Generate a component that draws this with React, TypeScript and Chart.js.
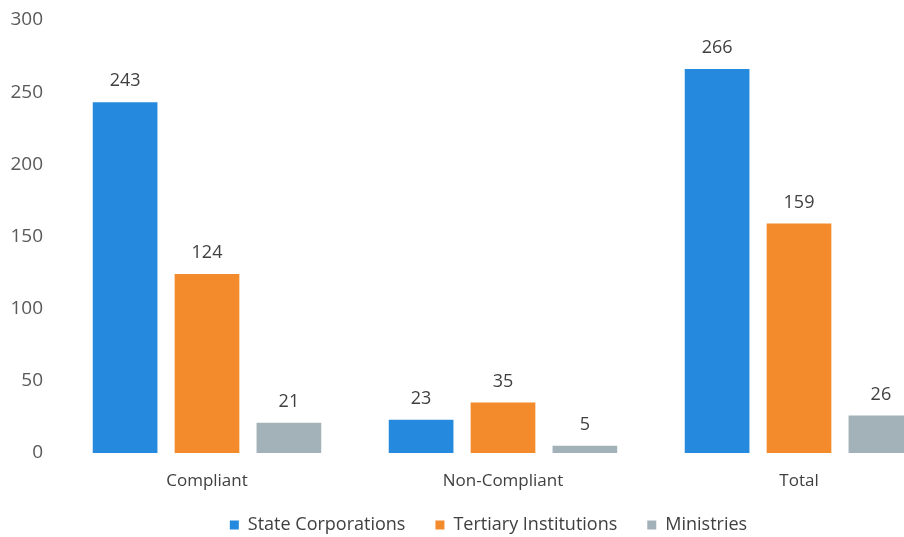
import React, { useEffect, useRef } from "react";
import { Chart, registerables } from "chart.js";

Chart.register(...registerables);

const categories = ["Compliant", "Non-Compliant", "Total"];
const seriesNames = ["State Corporations", "Tertiary Institutions", "Ministries"];
const stateCorporations = [243, 23, 266];
const tertiaryInstitutions = [124, 35, 159];
const ministries = [21, 5, 26];
const seriesColors = ["#2589dd", "#f38a2b", "#a2b2b8"];
const yTicks = [0, 50, 100, 150, 200, 250, 300];

const FONT = "'Open Sans', 'Noto Sans', sans-serif";

const valueLabels = {
  id: "valueLabels",
  afterDatasetsDraw(chart: any) {
    const ctx = chart.ctx;
    ctx.save();
    ctx.font = `18px ${FONT}`;
    ctx.fillStyle = "#404040";
    ctx.textAlign = "center";
    ctx.textBaseline = "bottom";
    chart.data.datasets.forEach((ds: any, i: number) => {
      const meta = chart.getDatasetMeta(i);
      meta.data.forEach((bar: any, j: number) => {
        ctx.fillText(String(ds.data[j]), bar.x, bar.y - 12);
      });
    });
    ctx.restore();
  },
};

const layoutTune = {
  id: "layoutTune",
  beforeInit(chart: any) {
    const legend = chart.legend;
    if (!legend) return;
    const fit = legend.fit;
    legend.fit = function () {
      fit.call(this);
      this.height = 51;
    };
  },
  afterLayout(chart: any) {
    const legend = chart.legend;
    if (legend) {
      legend.left += 15;
      legend.right += 15;
    }
    const x = chart.scales.x;
    if (x) {
      x.bottom += 20;
      x.height += 20;
    }
  },
};

export default function App() {
  const ref = useRef<HTMLCanvasElement>(null);
  useEffect(() => {
    if (!ref.current) return;
    const data = [stateCorporations, tertiaryInstitutions, ministries];
    const chart = new Chart(ref.current, {
      type: "bar",
      data: {
        labels: categories,
        datasets: seriesNames.map((name, i) => ({
          label: name,
          data: data[i],
          backgroundColor: seriesColors[i],
          borderWidth: 0,
          categoryPercentage: 0.83,
          barPercentage: 0.79,
        })),
      },
      options: {
        responsive: false,
        animation: false,
        layout: { padding: { left: 0, right: 29, top: 20, bottom: 0 } },
        plugins: {
          tooltip: { enabled: false },
          legend: {
            position: "bottom",
            labels: {
              boxWidth: 9,
              boxHeight: 9,
              padding: 30,
              color: "#404040",
              font: { family: FONT, size: 18 },
            },
          },
        },
        scales: {
          x: {
            afterFit(axis: any) {
              axis.height = 33;
              axis.paddingLeft = 0;
              axis.paddingRight = 0;
            },
            grid: { display: false },
            border: { display: false },
            ticks: { color: "#404040", font: { family: FONT, size: 17 }, padding: 10 },
          },
          y: {
            min: 0,
            max: 300,
            afterBuildTicks(axis: any) {
              axis.ticks = yTicks.map((v) => ({ value: v }));
            },
            afterFit(axis: any) {
              axis.width = 59;
              axis.paddingTop = 0;
              axis.paddingBottom = 0;
            },
            grid: { display: false },
            border: { display: false },
            ticks: { color: "#595959", font: { family: FONT, size: 19 }, padding: 8 },
          },
        },
      },
      plugins: [valueLabels, layoutTune],
    });
    return () => chart.destroy();
  }, []);
  return (
    <div style={{ position: "fixed", left: 0, top: 0, width: 904, height: 537, overflow: "hidden", background: "#fff" }}>
      <canvas ref={ref} width={976} height={537} style={{ display: "block" }} />
    </div>
  );
}
